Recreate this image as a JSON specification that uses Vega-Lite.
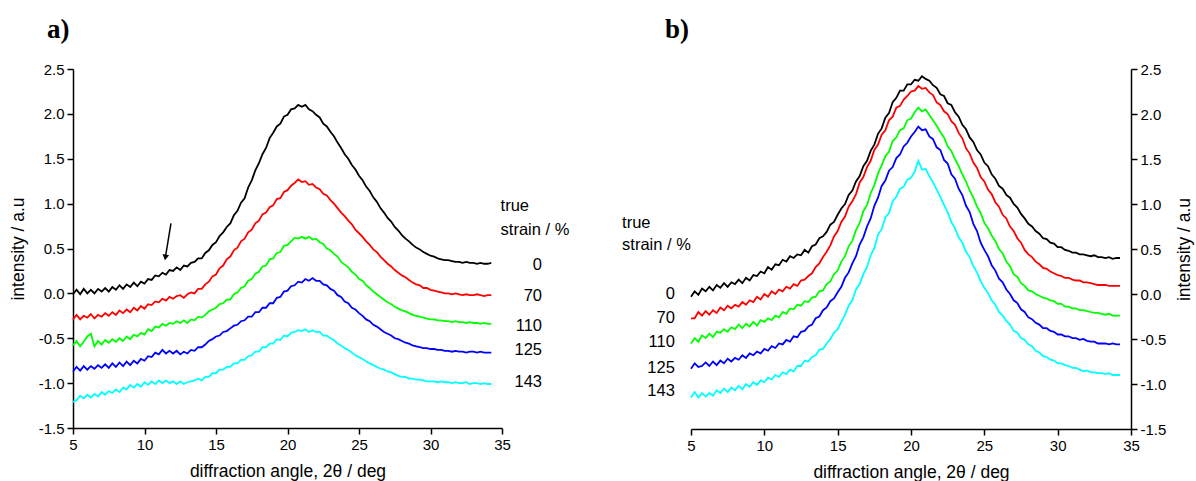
{
"$schema": "https://vega.github.io/schema/vega-lite/v6.json",
"background": "white",
"padding": {"left": 9, "top": 16, "right": 2, "bottom": 2},
"bounds": "flush",
"spacing": 189,
"config": {
  "view": {"stroke": null},
  "font": "Liberation Sans",
  "axis": {"domainColor": "#000", "domainWidth": 1.5, "tickColor": "#000", "tickWidth": 1.5, "labelColor": "#000", "titleColor": "#000", "labelFont": "Liberation Sans", "titleFont": "Liberation Sans", "labelFontSize": 15, "titleFontSize": 17.5, "titleFontWeight": "normal", "grid": false, "tickSize": 6, "labelPadding": 3},
  "text": {"font": "Liberation Sans", "fontSize": 16.5, "color": "#000"}
},
"datasets": {
"curves": [
{"x":5,"a":-0.01,"b":-0.29,"c":-0.58,"d":-0.87,"e":-1.21,"f":-0.03,"g":-0.27,"h":-0.55,"i":-0.83,"j":-1.15},
{"x":5.25,"a":0.04,"b":-0.24,"c":-0.53,"d":-0.82,"e":-1.19,"f":0.03,"g":-0.27,"h":-0.49,"i":-0.77,"j":-1.09},
{"x":5.5,"a":-0.01,"b":-0.29,"c":-0.59,"d":-0.86,"e":-1.14,"f":-0.01,"g":-0.2,"h":-0.53,"i":-0.81,"j":-1.15},
{"x":5.75,"a":0.05,"b":-0.25,"c":-0.54,"d":-0.81,"e":-1.17,"f":0.06,"g":-0.24,"h":-0.46,"i":-0.8,"j":-1.1},
{"x":6,"a":0,"b":-0.27,"c":-0.48,"d":-0.85,"e":-1.13,"f":0.03,"g":-0.19,"h":-0.49,"i":-0.76,"j":-1.14},
{"x":6.25,"a":0.04,"b":-0.23,"c":-0.45,"d":-0.81,"e":-1.16,"f":0.08,"g":-0.23,"h":-0.44,"i":-0.8,"j":-1.1},
{"x":6.5,"a":0,"b":-0.28,"c":-0.59,"d":-0.84,"e":-1.12,"f":0.04,"g":-0.18,"h":-0.48,"i":-0.75,"j":-1.13},
{"x":6.75,"a":0.05,"b":-0.24,"c":-0.53,"d":-0.8,"e":-1.15,"f":0.1,"g":-0.21,"h":-0.42,"i":-0.79,"j":-1.07},
{"x":7,"a":0.02,"b":-0.26,"c":-0.57,"d":-0.83,"e":-1.1,"f":0.07,"g":-0.15,"h":-0.43,"i":-0.74,"j":-1.1},
{"x":7.25,"a":0.06,"b":-0.22,"c":-0.52,"d":-0.79,"e":-1.13,"f":0.12,"g":-0.18,"h":-0.39,"i":-0.77,"j":-1.05},
{"x":7.5,"a":0.02,"b":-0.25,"c":-0.55,"d":-0.83,"e":-1.09,"f":0.08,"g":-0.13,"h":-0.42,"i":-0.72,"j":-1.09},
{"x":7.75,"a":0.07,"b":-0.21,"c":-0.51,"d":-0.78,"e":-1.11,"f":0.13,"g":-0.16,"h":-0.37,"i":-0.75,"j":-1.04},
{"x":8,"a":0.04,"b":-0.24,"c":-0.54,"d":-0.82,"e":-1.07,"f":0.11,"g":-0.12,"h":-0.39,"i":-0.71,"j":-1.07},
{"x":8.25,"a":0.09,"b":-0.19,"c":-0.5,"d":-0.77,"e":-1.1,"f":0.16,"g":-0.14,"h":-0.34,"i":-0.73,"j":-1.02},
{"x":8.5,"a":0.05,"b":-0.22,"c":-0.53,"d":-0.81,"e":-1.05,"f":0.12,"g":-0.09,"h":-0.38,"i":-0.68,"j":-1.06},
{"x":8.75,"a":0.1,"b":-0.18,"c":-0.48,"d":-0.76,"e":-1.07,"f":0.18,"g":-0.12,"h":-0.33,"i":-0.71,"j":-1},
{"x":9,"a":0.07,"b":-0.21,"c":-0.51,"d":-0.8,"e":-1.02,"f":0.15,"g":-0.07,"h":-0.36,"i":-0.66,"j":-1.03},
{"x":9.25,"a":0.12,"b":-0.16,"c":-0.46,"d":-0.75,"e":-1.05,"f":0.21,"g":-0.09,"h":-0.31,"i":-0.68,"j":-0.98},
{"x":9.5,"a":0.08,"b":-0.19,"c":-0.48,"d":-0.78,"e":-1.01,"f":0.2,"g":-0.03,"h":-0.35,"i":-0.64,"j":-1.01},
{"x":9.75,"a":0.13,"b":-0.14,"c":-0.44,"d":-0.73,"e":-1.04,"f":0.25,"g":-0.06,"h":-0.29,"i":-0.66,"j":-0.96},
{"x":10,"a":0.11,"b":-0.17,"c":-0.46,"d":-0.75,"e":-0.99,"f":0.23,"g":0,"h":-0.31,"i":-0.61,"j":-0.98},
{"x":10.25,"a":0.16,"b":-0.12,"c":-0.4,"d":-0.7,"e":-1.02,"f":0.3,"g":-0.03,"h":-0.27,"i":-0.63,"j":-0.93},
{"x":10.5,"a":0.15,"b":-0.13,"c":-0.42,"d":-0.71,"e":-0.98,"f":0.27,"g":0.03,"h":-0.29,"i":-0.58,"j":-0.95},
{"x":10.75,"a":0.2,"b":-0.09,"c":-0.37,"d":-0.66,"e":-1.01,"f":0.33,"g":0,"h":-0.24,"i":-0.6,"j":-0.9},
{"x":11,"a":0.19,"b":-0.1,"c":-0.38,"d":-0.68,"e":-0.97,"f":0.32,"g":0.05,"h":-0.26,"i":-0.55,"j":-0.92},
{"x":11.25,"a":0.23,"b":-0.06,"c":-0.34,"d":-0.63,"e":-1,"f":0.38,"g":0.03,"h":-0.2,"i":-0.56,"j":-0.87},
{"x":11.5,"a":0.21,"b":-0.08,"c":-0.36,"d":-0.67,"e":-0.97,"f":0.36,"g":0.08,"h":-0.22,"i":-0.51,"j":-0.89},
{"x":11.75,"a":0.26,"b":-0.04,"c":-0.33,"d":-0.64,"e":-1,"f":0.42,"g":0.06,"h":-0.16,"i":-0.53,"j":-0.84},
{"x":12,"a":0.25,"b":-0.06,"c":-0.34,"d":-0.67,"e":-0.98,"f":0.4,"g":0.11,"h":-0.17,"i":-0.47,"j":-0.86},
{"x":12.25,"a":0.29,"b":-0.03,"c":-0.31,"d":-0.64,"e":-1.01,"f":0.44,"g":0.09,"h":-0.12,"i":-0.48,"j":-0.8},
{"x":12.5,"a":0.26,"b":-0.02,"c":-0.33,"d":-0.68,"e":-0.98,"f":0.43,"g":0.15,"h":-0.13,"i":-0.42,"j":-0.8},
{"x":12.75,"a":0.31,"b":-0.05,"c":-0.3,"d":-0.65,"e":-1.01,"f":0.49,"g":0.16,"h":-0.08,"i":-0.41,"j":-0.74},
{"x":13,"a":0.3,"b":-0.01,"c":-0.33,"d":-0.67,"e":-0.99,"f":0.46,"g":0.2,"h":-0.09,"i":-0.36,"j":-0.75},
{"x":13.25,"a":0.34,"b":0.01,"c":-0.29,"d":-0.63,"e":-0.98,"f":0.53,"g":0.23,"h":-0.04,"i":-0.34,"j":-0.7},
{"x":13.5,"a":0.35,"b":0,"c":-0.3,"d":-0.64,"e":-0.97,"f":0.55,"g":0.3,"h":-0.03,"i":-0.27,"j":-0.68},
{"x":13.75,"a":0.39,"b":0.05,"c":-0.26,"d":-0.6,"e":-0.95,"f":0.62,"g":0.34,"h":0.03,"i":-0.25,"j":-0.62},
{"x":14,"a":0.39,"b":0.05,"c":-0.27,"d":-0.6,"e":-0.97,"f":0.64,"g":0.41,"h":0.04,"i":-0.18,"j":-0.61},
{"x":14.25,"a":0.45,"b":0.1,"c":-0.24,"d":-0.57,"e":-0.93,"f":0.69,"g":0.47,"h":0.11,"i":-0.15,"j":-0.55},
{"x":14.5,"a":0.48,"b":0.13,"c":-0.2,"d":-0.53,"e":-0.93,"f":0.77,"g":0.54,"h":0.14,"i":-0.08,"j":-0.5},
{"x":14.75,"a":0.54,"b":0.19,"c":-0.18,"d":-0.51,"e":-0.89,"f":0.8,"g":0.64,"h":0.22,"i":-0.05,"j":-0.43},
{"x":15,"a":0.57,"b":0.21,"c":-0.16,"d":-0.48,"e":-0.89,"f":0.88,"g":0.7,"h":0.26,"i":0.02,"j":-0.39},
{"x":15.25,"a":0.64,"b":0.28,"c":-0.12,"d":-0.47,"e":-0.85,"f":0.95,"g":0.8,"h":0.36,"i":0.08,"j":-0.31},
{"x":15.5,"a":0.68,"b":0.31,"c":-0.11,"d":-0.43,"e":-0.85,"f":1,"g":0.86,"h":0.42,"i":0.18,"j":-0.23},
{"x":15.75,"a":0.74,"b":0.38,"c":-0.07,"d":-0.42,"e":-0.82,"f":1.1,"g":0.97,"h":0.53,"i":0.24,"j":-0.13},
{"x":16,"a":0.78,"b":0.41,"c":-0.07,"d":-0.39,"e":-0.82,"f":1.15,"g":1.03,"h":0.59,"i":0.34,"j":-0.07},
{"x":16.25,"a":0.87,"b":0.48,"c":-0.01,"d":-0.36,"e":-0.78,"f":1.25,"g":1.11,"h":0.71,"i":0.42,"j":0.05},
{"x":16.5,"a":0.92,"b":0.51,"c":0.01,"d":-0.35,"e":-0.78,"f":1.31,"g":1.24,"h":0.79,"i":0.55,"j":0.11},
{"x":16.75,"a":1.01,"b":0.58,"c":0.06,"d":-0.31,"e":-0.74,"f":1.42,"g":1.3,"h":0.92,"i":0.63,"j":0.22},
{"x":17,"a":1.06,"b":0.61,"c":0.08,"d":-0.3,"e":-0.74,"f":1.48,"g":1.41,"h":0.99,"i":0.75,"j":0.3},
{"x":17.25,"a":1.18,"b":0.68,"c":0.14,"d":-0.26,"e":-0.7,"f":1.59,"g":1.48,"h":1.12,"i":0.84,"j":0.43},
{"x":17.5,"a":1.26,"b":0.71,"c":0.16,"d":-0.26,"e":-0.69,"f":1.66,"g":1.6,"h":1.21,"i":0.98,"j":0.51},
{"x":17.75,"a":1.37,"b":0.78,"c":0.22,"d":-0.21,"e":-0.65,"f":1.78,"g":1.66,"h":1.34,"i":1.07,"j":0.66},
{"x":18,"a":1.45,"b":0.81,"c":0.24,"d":-0.21,"e":-0.65,"f":1.84,"g":1.77,"h":1.43,"i":1.2,"j":0.72},
{"x":18.25,"a":1.55,"b":0.88,"c":0.3,"d":-0.16,"e":-0.6,"f":1.96,"g":1.82,"h":1.53,"i":1.26,"j":0.85},
{"x":18.5,"a":1.62,"b":0.9,"c":0.31,"d":-0.16,"e":-0.6,"f":2.01,"g":1.93,"h":1.58,"i":1.37,"j":0.9},
{"x":18.75,"a":1.73,"b":0.96,"c":0.38,"d":-0.11,"e":-0.56,"f":2.13,"g":1.97,"h":1.7,"i":1.41,"j":1.03},
{"x":19,"a":1.79,"b":0.98,"c":0.39,"d":-0.11,"e":-0.56,"f":2.18,"g":2.07,"h":1.74,"i":1.51,"j":1.08},
{"x":19.25,"a":1.86,"b":1.05,"c":0.45,"d":-0.05,"e":-0.51,"f":2.26,"g":2.09,"h":1.82,"i":1.55,"j":1.17},
{"x":19.5,"a":1.89,"b":1.06,"c":0.46,"d":-0.04,"e":-0.52,"f":2.26,"g":2.16,"h":1.84,"i":1.64,"j":1.19},
{"x":19.75,"a":1.97,"b":1.13,"c":0.53,"d":0.02,"e":-0.47,"f":2.33,"g":2.2,"h":1.93,"i":1.68,"j":1.27},
{"x":20,"a":1.99,"b":1.15,"c":0.54,"d":0.03,"e":-0.48,"f":2.33,"g":2.25,"h":1.95,"i":1.75,"j":1.29},
{"x":20.25,"a":2.05,"b":1.2,"c":0.58,"d":0.08,"e":-0.44,"f":2.38,"g":2.26,"h":2.02,"i":1.8,"j":1.36},
{"x":20.5,"a":2.06,"b":1.23,"c":0.62,"d":0.09,"e":-0.43,"f":2.37,"g":2.31,"h":2.07,"i":1.86,"j":1.48},
{"x":20.75,"a":2.1,"b":1.27,"c":0.61,"d":0.13,"e":-0.41,"f":2.42,"g":2.28,"h":2.03,"i":1.82,"j":1.38},
{"x":21,"a":2.08,"b":1.24,"c":0.63,"d":0.12,"e":-0.42,"f":2.39,"g":2.29,"h":2.05,"i":1.83,"j":1.39},
{"x":21.25,"a":2.1,"b":1.25,"c":0.61,"d":0.16,"e":-0.4,"f":2.37,"g":2.24,"h":1.99,"i":1.75,"j":1.31},
{"x":21.5,"a":2.05,"b":1.21,"c":0.63,"d":0.14,"e":-0.43,"f":2.32,"g":2.21,"h":1.93,"i":1.72,"j":1.24},
{"x":21.75,"a":2.03,"b":1.22,"c":0.6,"d":0.17,"e":-0.41,"f":2.29,"g":2.13,"h":1.87,"i":1.63,"j":1.16},
{"x":22,"a":1.99,"b":1.18,"c":0.61,"d":0.14,"e":-0.43,"f":2.22,"g":2.1,"h":1.8,"i":1.6,"j":1.08},
{"x":22.25,"a":1.96,"b":1.16,"c":0.57,"d":0.14,"e":-0.43,"f":2.2,"g":2.03,"h":1.74,"i":1.49,"j":0.99},
{"x":22.5,"a":1.89,"b":1.11,"c":0.55,"d":0.1,"e":-0.47,"f":2.12,"g":2,"h":1.64,"i":1.45,"j":0.91},
{"x":22.75,"a":1.86,"b":1.09,"c":0.5,"d":0.09,"e":-0.47,"f":2.1,"g":1.92,"h":1.59,"i":1.33,"j":0.8},
{"x":23,"a":1.8,"b":1.04,"c":0.48,"d":0.05,"e":-0.5,"f":2.02,"g":1.88,"h":1.5,"i":1.28,"j":0.73},
{"x":23.25,"a":1.75,"b":1,"c":0.44,"d":0.03,"e":-0.52,"f":1.97,"g":1.79,"h":1.42,"i":1.17,"j":0.63},
{"x":23.5,"a":1.68,"b":0.95,"c":0.41,"d":-0.02,"e":-0.56,"f":1.88,"g":1.73,"h":1.33,"i":1.1,"j":0.57},
{"x":23.75,"a":1.62,"b":0.9,"c":0.35,"d":-0.04,"e":-0.58,"f":1.83,"g":1.62,"h":1.25,"i":0.98,"j":0.47},
{"x":24,"a":1.55,"b":0.86,"c":0.32,"d":-0.09,"e":-0.61,"f":1.74,"g":1.56,"h":1.15,"i":0.91,"j":0.41},
{"x":24.25,"a":1.5,"b":0.81,"c":0.29,"d":-0.11,"e":-0.63,"f":1.69,"g":1.46,"h":1.07,"i":0.78,"j":0.31},
{"x":24.5,"a":1.43,"b":0.77,"c":0.24,"d":-0.16,"e":-0.66,"f":1.6,"g":1.4,"h":0.97,"i":0.7,"j":0.24},
{"x":24.75,"a":1.38,"b":0.71,"c":0.21,"d":-0.18,"e":-0.69,"f":1.55,"g":1.3,"h":0.9,"i":0.57,"j":0.14},
{"x":25,"a":1.31,"b":0.67,"c":0.16,"d":-0.22,"e":-0.71,"f":1.46,"g":1.25,"h":0.79,"i":0.49,"j":0.07},
{"x":25.25,"a":1.26,"b":0.63,"c":0.14,"d":-0.25,"e":-0.73,"f":1.42,"g":1.16,"h":0.73,"i":0.42,"j":0.01},
{"x":25.5,"a":1.19,"b":0.58,"c":0.09,"d":-0.29,"e":-0.76,"f":1.33,"g":1.11,"h":0.65,"i":0.32,"j":-0.07},
{"x":25.75,"a":1.14,"b":0.54,"c":0.06,"d":-0.31,"e":-0.78,"f":1.28,"g":1.02,"h":0.59,"i":0.26,"j":-0.12},
{"x":26,"a":1.07,"b":0.49,"c":0.02,"d":-0.35,"e":-0.8,"f":1.2,"g":0.97,"h":0.5,"i":0.17,"j":-0.2},
{"x":26.25,"a":1.02,"b":0.46,"c":-0.01,"d":-0.37,"e":-0.82,"f":1.17,"g":0.88,"h":0.45,"i":0.13,"j":-0.24},
{"x":26.5,"a":0.95,"b":0.41,"c":-0.04,"d":-0.4,"e":-0.84,"f":1.1,"g":0.84,"h":0.36,"i":0.05,"j":-0.3},
{"x":26.75,"a":0.9,"b":0.37,"c":-0.07,"d":-0.43,"e":-0.85,"f":1.07,"g":0.75,"h":0.31,"i":0,"j":-0.34},
{"x":27,"a":0.84,"b":0.33,"c":-0.1,"d":-0.45,"e":-0.87,"f":1,"g":0.7,"h":0.22,"i":-0.07,"j":-0.41},
{"x":27.25,"a":0.8,"b":0.3,"c":-0.12,"d":-0.47,"e":-0.88,"f":0.96,"g":0.62,"h":0.19,"i":-0.1,"j":-0.43},
{"x":27.5,"a":0.74,"b":0.26,"c":-0.15,"d":-0.5,"e":-0.9,"f":0.89,"g":0.57,"h":0.12,"i":-0.17,"j":-0.49},
{"x":27.75,"a":0.7,"b":0.23,"c":-0.17,"d":-0.51,"e":-0.92,"f":0.84,"g":0.49,"h":0.09,"i":-0.2,"j":-0.51},
{"x":28,"a":0.65,"b":0.2,"c":-0.19,"d":-0.53,"e":-0.93,"f":0.78,"g":0.44,"h":0.04,"i":-0.26,"j":-0.56},
{"x":28.25,"a":0.61,"b":0.18,"c":-0.2,"d":-0.55,"e":-0.93,"f":0.75,"g":0.41,"h":0.03,"i":-0.28,"j":-0.58},
{"x":28.5,"a":0.58,"b":0.15,"c":-0.22,"d":-0.56,"e":-0.95,"f":0.7,"g":0.36,"h":0,"i":-0.32,"j":-0.63},
{"x":28.75,"a":0.54,"b":0.12,"c":-0.24,"d":-0.58,"e":-0.95,"f":0.67,"g":0.33,"h":-0.02,"i":-0.34,"j":-0.65},
{"x":29,"a":0.51,"b":0.1,"c":-0.25,"d":-0.59,"e":-0.96,"f":0.62,"g":0.29,"h":-0.04,"i":-0.38,"j":-0.69},
{"x":29.25,"a":0.49,"b":0.09,"c":-0.26,"d":-0.6,"e":-0.96,"f":0.61,"g":0.28,"h":-0.05,"i":-0.38,"j":-0.7},
{"x":29.5,"a":0.46,"b":0.06,"c":-0.27,"d":-0.61,"e":-0.97,"f":0.57,"g":0.25,"h":-0.07,"i":-0.41,"j":-0.73},
{"x":29.75,"a":0.44,"b":0.06,"c":-0.28,"d":-0.61,"e":-0.98,"f":0.56,"g":0.23,"h":-0.08,"i":-0.42,"j":-0.74},
{"x":30,"a":0.42,"b":0.04,"c":-0.29,"d":-0.62,"e":-0.98,"f":0.52,"g":0.21,"h":-0.11,"i":-0.45,"j":-0.77},
{"x":30.25,"a":0.41,"b":0.03,"c":-0.29,"d":-0.62,"e":-0.98,"f":0.52,"g":0.2,"h":-0.11,"i":-0.45,"j":-0.77},
{"x":30.5,"a":0.39,"b":0.02,"c":-0.3,"d":-0.63,"e":-0.99,"f":0.49,"g":0.18,"h":-0.14,"i":-0.47,"j":-0.79},
{"x":30.75,"a":0.38,"b":0.01,"c":-0.3,"d":-0.63,"e":-0.98,"f":0.48,"g":0.18,"h":-0.14,"i":-0.47,"j":-0.8},
{"x":31,"a":0.37,"b":0,"c":-0.31,"d":-0.64,"e":-0.99,"f":0.46,"g":0.16,"h":-0.16,"i":-0.49,"j":-0.82},
{"x":31.25,"a":0.37,"b":0,"c":-0.31,"d":-0.64,"e":-0.99,"f":0.46,"g":0.15,"h":-0.16,"i":-0.49,"j":-0.82},
{"x":31.5,"a":0.36,"b":-0.01,"c":-0.32,"d":-0.65,"e":-1,"f":0.44,"g":0.15,"h":-0.18,"i":-0.51,"j":-0.84},
{"x":31.75,"a":0.35,"b":0,"c":-0.31,"d":-0.64,"e":-0.99,"f":0.44,"g":0.13,"h":-0.18,"i":-0.5,"j":-0.86},
{"x":32,"a":0.35,"b":-0.01,"c":-0.32,"d":-0.65,"e":-1,"f":0.43,"g":0.13,"h":-0.19,"i":-0.52,"j":-0.85},
{"x":32.25,"a":0.34,"b":-0.02,"c":-0.32,"d":-0.65,"e":-1,"f":0.42,"g":0.12,"h":-0.2,"i":-0.53,"j":-0.87},
{"x":32.5,"a":0.35,"b":-0.01,"c":-0.33,"d":-0.66,"e":-0.99,"f":0.43,"g":0.11,"h":-0.21,"i":-0.53,"j":-0.87},
{"x":32.75,"a":0.34,"b":-0.02,"c":-0.32,"d":-0.65,"e":-1.01,"f":0.41,"g":0.1,"h":-0.21,"i":-0.55,"j":-0.88},
{"x":33,"a":0.34,"b":-0.02,"c":-0.33,"d":-0.65,"e":-1,"f":0.41,"g":0.1,"h":-0.22,"i":-0.55,"j":-0.88},
{"x":33.25,"a":0.33,"b":-0.01,"c":-0.33,"d":-0.66,"e":-1,"f":0.4,"g":0.1,"h":-0.23,"i":-0.55,"j":-0.89},
{"x":33.5,"a":0.34,"b":-0.02,"c":-0.34,"d":-0.65,"e":-1.01,"f":0.41,"g":0.09,"h":-0.22,"i":-0.56,"j":-0.88},
{"x":33.75,"a":0.33,"b":-0.03,"c":-0.33,"d":-0.66,"e":-1,"f":0.39,"g":0.09,"h":-0.24,"i":-0.55,"j":-0.9},
{"x":34,"a":0.33,"b":-0.02,"c":-0.34,"d":-0.66,"e":-1.01,"f":0.4,"g":0.09,"h":-0.24,"i":-0.56,"j":-0.9},
{"x":34.25,"a":0.34,"b":-0.02,"c":-0.34,"d":-0.66,"e":-1.01,"f":0.4,"g":0.09,"h":-0.24,"i":-0.56,"j":-0.9}
],
"numA": [
{"x":37.8,"y":0.32,"t":"0"},{"x":37.8,"y":-0.03,"t":"70"},{"x":37.8,"y":-0.36,"t":"110"},{"x":37.8,"y":-0.63,"t":"125"},{"x":37.8,"y":-0.99,"t":"143"}
],
"headA": [{"x":34.9,"y":0.97,"t":"true"},{"x":34.9,"y":0.71,"t":"strain / %"}],
"numB": [
{"x":3.9,"y":0.0,"t":"0"},{"x":3.9,"y":-0.27,"t":"70"},{"x":3.9,"y":-0.53,"t":"110"},{"x":3.9,"y":-0.82,"t":"125"},{"x":3.9,"y":-1.08,"t":"143"}
],
"headB": [{"x":0.3,"y":0.79,"t":"true"},{"x":0.3,"y":0.54,"t":"strain / %"}],
"arrow": [{"x":11.85,"y":0.78,"x2":11.48,"y2":0.42}],
"tip": [{"x":11.46,"y":0.4}]
},
"hconcat": [
{
  "width": 429, "height": 359,
  "title": {"text": "a)", "anchor": "start", "frame": "group", "font": "Liberation Serif", "fontSize": 27, "fontWeight": "bold", "color": "#000", "dx": -26, "offset": 18},
  "layer": [
    {
      "data": {"name": "curves"},
      "transform": [{"fold": ["a", "b", "c", "d", "e"], "as": ["s", "y"]}],
      "mark": {"type": "line", "strokeWidth": 1.8, "interpolate": "linear"},
      "encoding": {
        "x": {"field": "x", "type": "quantitative", "scale": {"domain": [5, 35], "nice": false, "zero": false},
              "axis": {"title": "diffraction angle, 2θ / deg", "values": [5, 7.5, 10, 12.5, 15, 17.5, 20, 22.5, 25, 27.5, 30, 32.5, 35], "labelExpr": "datum.value % 5 == 0 ? datum.label : ''", "tickSize": {"condition": {"test": "datum.value % 5 == 0", "value": 6}, "value": 3}, "titlePadding": 10, "labelFlush": false}},
        "y": {"field": "y", "type": "quantitative", "scale": {"domain": [-1.5, 2.5], "nice": false, "zero": false},
              "axis": {"title": "intensity / a.u", "values": [-1.5, -1.25, -1, -0.75, -0.5, -0.25, 0, 0.25, 0.5, 0.75, 1, 1.25, 1.5, 1.75, 2, 2.25, 2.5], "format": ".1f", "labelExpr": "abs(datum.value * 2 - round(datum.value * 2)) < 0.01 ? replace(datum.label, '−', '-') : ''", "tickSize": {"condition": {"test": "abs(datum.value * 2 - round(datum.value * 2)) < 0.01", "value": 6}, "value": 3}, "titlePadding": 11, "labelFlush": false}},
        "color": {"field": "s", "type": "nominal", "scale": {"domain": ["a", "b", "c", "d", "e"], "range": ["#000000", "#ff0000", "#00ff00", "#0000ff", "#00ffff"]}, "legend": null}
      }
    },
    {
      "data": {"name": "numA"},
      "mark": {"type": "text", "align": "right", "baseline": "middle"},
      "encoding": {"x": {"field": "x", "type": "quantitative"}, "y": {"field": "y", "type": "quantitative"}, "text": {"field": "t"}}
    },
    {
      "data": {"name": "headA"},
      "mark": {"type": "text", "align": "left", "baseline": "middle"},
      "encoding": {"x": {"field": "x", "type": "quantitative"}, "y": {"field": "y", "type": "quantitative"}, "text": {"field": "t"}}
    },
    {
      "data": {"name": "arrow"},
      "mark": {"type": "rule", "color": "#000", "strokeWidth": 1.5},
      "encoding": {"x": {"field": "x", "type": "quantitative"}, "y": {"field": "y", "type": "quantitative"}, "x2": {"field": "x2"}, "y2": {"field": "y2"}}
    },
    {
      "data": {"name": "tip"},
      "mark": {"type": "point", "shape": "triangle-down", "filled": true, "color": "#000", "size": 45, "angle": 9, "opacity": 1},
      "encoding": {"x": {"field": "x", "type": "quantitative"}, "y": {"field": "y", "type": "quantitative"}}
    }
  ]
},
{
  "width": 440, "height": 360,
  "title": {"text": "b)", "anchor": "start", "frame": "group", "font": "Liberation Serif", "fontSize": 27, "fontWeight": "bold", "color": "#000", "dx": -26, "offset": 18},
  "layer": [
    {
      "data": {"name": "curves"},
      "transform": [{"fold": ["f", "g", "h", "i", "j"], "as": ["s", "y"]}],
      "mark": {"type": "line", "strokeWidth": 1.8, "interpolate": "linear"},
      "encoding": {
        "x": {"field": "x", "type": "quantitative", "scale": {"domain": [5, 35], "nice": false, "zero": false},
              "axis": {"title": "diffraction angle, 2θ / deg", "values": [5, 7.5, 10, 12.5, 15, 17.5, 20, 22.5, 25, 27.5, 30, 32.5, 35], "labelExpr": "datum.value % 5 == 0 ? datum.label : ''", "tickSize": {"condition": {"test": "datum.value % 5 == 0", "value": 6}, "value": 3}, "titlePadding": 10, "labelFlush": false}},
        "y": {"field": "y", "type": "quantitative", "scale": {"domain": [-1.5, 2.5], "nice": false, "zero": false},
              "axis": {"orient": "right", "title": "intensity / a.u", "titleAngle": 270, "titleBaseline": "top", "values": [-1.5, -1.25, -1, -0.75, -0.5, -0.25, 0, 0.25, 0.5, 0.75, 1, 1.25, 1.5, 1.75, 2, 2.25, 2.5], "format": ".1f", "labelExpr": "abs(datum.value * 2 - round(datum.value * 2)) < 0.01 ? replace(datum.label, '−', '-') : ''", "tickSize": {"condition": {"test": "abs(datum.value * 2 - round(datum.value * 2)) < 0.01", "value": 6}, "value": 3}, "titlePadding": 10, "labelFlush": false}},
        "color": {"field": "s", "type": "nominal", "scale": {"domain": ["f", "g", "h", "i", "j"], "range": ["#000000", "#ff0000", "#00ff00", "#0000ff", "#00ffff"]}, "legend": null}
      }
    },
    {
      "data": {"name": "numB"},
      "mark": {"type": "text", "align": "right", "baseline": "middle"},
      "encoding": {"x": {"field": "x", "type": "quantitative"}, "y": {"field": "y", "type": "quantitative"}, "text": {"field": "t"}}
    },
    {
      "data": {"name": "headB"},
      "mark": {"type": "text", "align": "left", "baseline": "middle"},
      "encoding": {"x": {"field": "x", "type": "quantitative"}, "y": {"field": "y", "type": "quantitative"}, "text": {"field": "t"}}
    }
  ]
}
]
}
